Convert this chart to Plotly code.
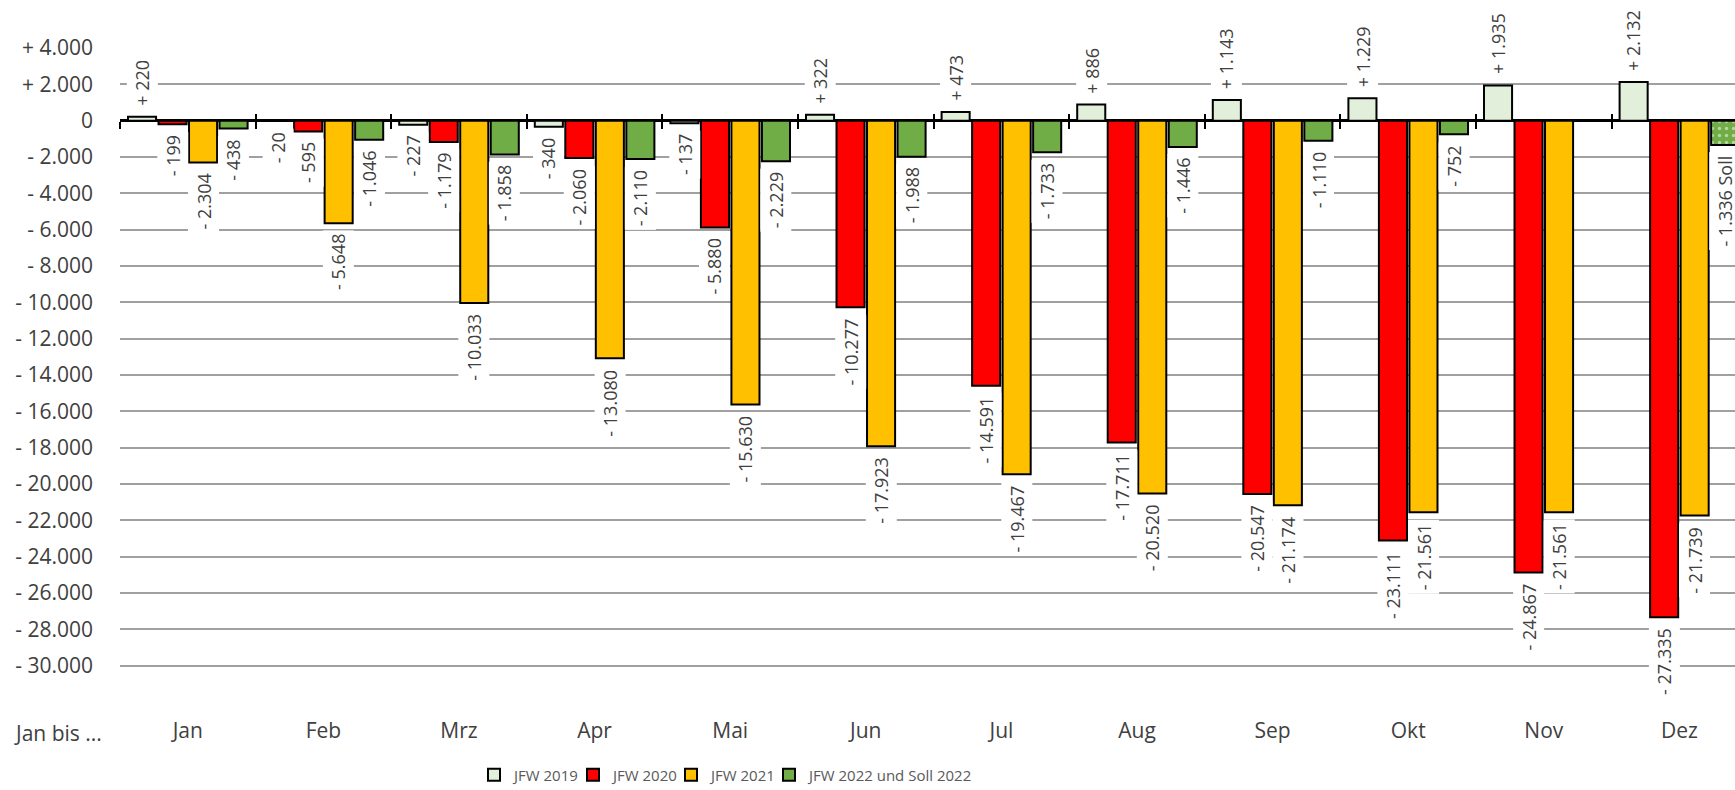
import plotly.graph_objects as go

# ---------------- data ----------------
months = ["Jan", "Feb", "Mrz", "Apr", "Mai", "Jun", "Jul", "Aug", "Sep", "Okt", "Nov", "Dez"]
series_names = ["JFW 2019", "JFW 2020", "JFW 2021", "JFW 2022 und Soll 2022"]
jfw2019 = [220, -20, -227, -340, -137, 322, 473, 886, 1143, 1229, 1935, 2132]
jfw2020 = [-199, -595, -1179, -2060, -5880, -10277, -14591, -17711, -20547, -23111, -24867, -27335]
jfw2021 = [-2304, -5648, -10033, -13080, -15630, -17923, -19467, -20520, -21174, -21561, -21561, -21739]
jfw2022 = [-438, -1046, -1858, -2110, -2229, -1988, -1733, -1446, -1110, -752, None, -1336]
suffix2022 = ["", "", "", "", "", "", "", "", "", "", "", " Soll"]
pattern2022 = ["", "", "", "", "", "", "", "", "", "", "", "."]
ytickvals = list(range(4000, -32001, -2000))
left_label = "Jan bis ..."

colors = ["#E2EFDA", "#FF0000", "#FFC000", "#70AD47"]

# ---------------- layout constants ----------------
W, H = 1735, 790
ML, MR, MT, MB = 120, 0, 48, 88
plot_w = W - ML - MR
cat_px = 135.6
x_end = -0.5 + plot_w / cat_px
ymin, ymax = -32000, 4000
bargap = 0.1
slot_px = cat_px * (1 - bargap) / 4
legend_x_px = [474, 573, 671, 769]

FONT = "Open Sans"
TXT = "#404040"


def fmt(v):
    s = f"{abs(v):,}".replace(",", ".")
    if v > 0:
        return "+ " + s
    if v < 0:
        return "- " + s
    return "0"


legend_ids = ["legend", "legend2", "legend3", "legend4"]

fig = go.Figure()
all_series = [jfw2019, jfw2020, jfw2021, jfw2022]
for i, (name, vals) in enumerate(zip(series_names, all_series)):
    marker = dict(color=colors[i], line=dict(color="black", width=2))
    if i == 3:
        marker["pattern"] = dict(shape=pattern2022, fgcolor="white", size=7, solidity=0.18)
    fig.add_trace(go.Bar(x=months, y=vals, name=name, marker=marker, cliponaxis=True,
                         legend=legend_ids[i]))

# data labels
annotations = []
for i, vals in enumerate(all_series):
    xs = (i - 1.5) * slot_px
    for j, v in enumerate(vals):
        if v is None:
            continue
        txt = fmt(v) + (suffix2022[j] if i == 3 else "")
        annotations.append(dict(
            x=months[j], y=v, xref="x", yref="y", text=txt, showarrow=False,
            textangle=-90, xshift=xs, yshift=(7 if v > 0 else -7),
            yanchor=("bottom" if v > 0 else "top"), xanchor="center",
            bgcolor="white", borderpad=3,
            font=dict(family=FONT, size=18, color=TXT)))

annotations.append(dict(x=-(ML - 12) / plot_w, y=-31 / (H - MT - MB), xref="paper", yref="paper",
                        xanchor="left", yanchor="middle", text=left_label, showarrow=False,
                        font=dict(family=FONT, size=21, color=TXT)))

# helper traces for the zero-line tick marks
for ax in ["x2", "x3"]:
    fig.add_trace(go.Scatter(x=[], y=[], xaxis=ax, yaxis="y", showlegend=False, hoverinfo="skip"))

zero_pos = (0 - ymin) / (ymax - ymin)
tickax = dict(overlaying="x", anchor="free", position=zero_pos, range=[-0.5, x_end],
              tickmode="linear", tick0=-0.5, dtick=1, ticklen=7, tickwidth=2, tickcolor="black",
              showticklabels=False, showgrid=False, zeroline=False, showline=False, side="bottom")

legend_common = dict(orientation="h", xref="container", yref="container", y=15 / H,
                     xanchor="left", yanchor="middle", bgcolor="rgba(0,0,0,0)",
                     font=dict(family=FONT, size=15, color="#595959"), itemwidth=30)
legends = {lid: dict(legend_common, x=px / W) for lid, px in zip(legend_ids, legend_x_px)}

fig.update_layout(
    width=W, height=H,
    margin=dict(l=ML, r=MR, t=MT, b=MB),
    paper_bgcolor="white", plot_bgcolor="white",
    barmode="group", bargap=bargap, bargroupgap=0.08,
    font=dict(family=FONT, color=TXT),
    xaxis=dict(type="category", range=[-0.5, x_end], showgrid=False, zeroline=False, showline=False,
               ticks="", tickfont=dict(family=FONT, size=21, color=TXT), ticklabelstandoff=14),
    xaxis2=dict(tickax, ticks="outside"),
    xaxis3=dict(tickax, ticks="inside"),
    yaxis=dict(range=[ymin, ymax], tickmode="array", tickvals=ytickvals,
               ticktext=[fmt(v) if v != ymin else "" for v in ytickvals],
               showgrid=True, gridcolor="#A0A0A0", gridwidth=2,
               zeroline=True, zerolinecolor="black", zerolinewidth=2.5,
               showline=False, ticks="", ticklabelstandoff=26,
               tickfont=dict(family=FONT, size=21, color=TXT)),
    annotations=annotations,
    showlegend=True,
    **legends,
)

fig.write_html("out.html", post_script="document.body.style.margin='0';",
               config={"displayModeBar": False})
